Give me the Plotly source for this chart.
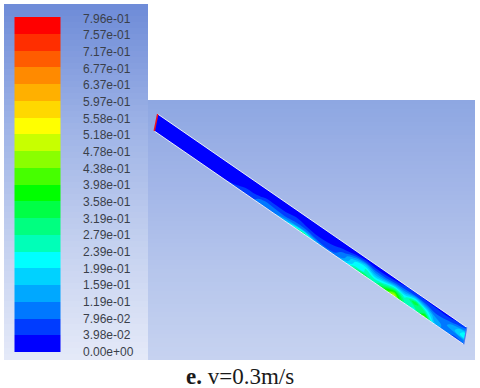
import numpy as np
import plotly.graph_objects as go

# legend values, top to bottom, and one colour per band between them
level_values = [0.796, 0.757, 0.717, 0.677, 0.637, 0.597, 0.558, 0.518, 0.478, 0.438, 0.398,
                0.358, 0.319, 0.279, 0.239, 0.199, 0.159, 0.119, 0.0796, 0.0398, 0.0]
band_colors = ["#ff0000", "#ff2e00", "#ff5c00", "#ff8a00", "#ffb000", "#ffd800", "#ffff00",
               "#c8ff00", "#8aff00", "#46ff00", "#00ff00", "#00ff46", "#00ff80", "#00ffb8",
               "#00ffff", "#00d2ff", "#00a8ff", "#0078ff", "#003cff", "#0000ff"]

# velocity along the plate: one row per station, left to right, each row from upper to lower edge
station_values = [
    [0.02, 0.02, 0.02, 0.02, 0.02, 0.02],
    [0.02, 0.02, 0.02, 0.02, 0.02, 0.02],
    [0.02, 0.02, 0.02, 0.02, 0.02, 0.02],
    [0.02, 0.02, 0.02, 0.02, 0.02, 0.02],
    [0.02, 0.02, 0.02, 0.02, 0.02, 0.02],
    [0.02, 0.02, 0.02, 0.02, 0.02, 0.02],
    [0.02, 0.02, 0.02, 0.02, 0.02, 0.03],
    [0.02, 0.02, 0.02, 0.02, 0.03, 0.04],
    [0.02, 0.02, 0.02, 0.02, 0.03, 0.05],
    [0.02, 0.02, 0.02, 0.03, 0.05, 0.06],
    [0.02, 0.02, 0.02, 0.03, 0.06, 0.08],
    [0.02, 0.02, 0.03, 0.05, 0.12, 0.10],
    [0.02, 0.02, 0.03, 0.05, 0.10, 0.12],
    [0.02, 0.02, 0.03, 0.05, 0.09, 0.17],
    [0.02, 0.02, 0.04, 0.06, 0.11, 0.27],
    [0.02, 0.02, 0.03, 0.05, 0.12, 0.34],
    [0.02, 0.02, 0.03, 0.04, 0.08, 0.18],
    [0.02, 0.02, 0.03, 0.04, 0.06, 0.10],
    [0.02, 0.02, 0.03, 0.05, 0.07, 0.10],
    [0.02, 0.02, 0.05, 0.10, 0.12, 0.18],
    [0.02, 0.04, 0.12, 0.20, 0.22, 0.30],
    [0.02, 0.05, 0.17, 0.24, 0.24, 0.36],
    [0.02, 0.04, 0.10, 0.17, 0.24, 0.28],
    [0.02, 0.04, 0.10, 0.20, 0.30, 0.38],
    [0.02, 0.05, 0.15, 0.28, 0.42, 0.52],
    [0.03, 0.07, 0.14, 0.22, 0.26, 0.28],
    [0.03, 0.08, 0.22, 0.36, 0.28, 0.20],
    [0.03, 0.06, 0.14, 0.24, 0.32, 0.46],
    [0.03, 0.05, 0.08, 0.12, 0.14, 0.18],
    [0.02, 0.05, 0.09, 0.11, 0.11, 0.09],
    [0.03, 0.07, 0.14, 0.16, 0.09, 0.07],
    [0.05, 0.11, 0.22, 0.24, 0.12, 0.08],
]
along_stations = list(np.linspace(0, 1, len(station_values)))
across_stations = [0, 0.2, 0.4, 0.6, 0.8, 1]

# plate corners on the page
plate_top_start, plate_top_end = (157.7, 114.0), (466.7, 327.3)
plate_low_start, plate_low_end = (154.3, 131.0), (463.7, 344.3)

panel_left_stops = ["#6f8cd8", "#9db2e6", "#c3d0ef", "#e4e9f8"]
panel_right_stops = ["#8ea7e2", "#a3b6e8", "#b6c6ec", "#c6d2f0"]

fig = go.Figure()


def add_panel(left, right, top, bottom, stops):
    rows = 60
    z = [[v] for v in np.linspace(0, 1, rows)]
    scale = [[i / (len(stops) - 1), c] for i, c in enumerate(stops)]
    fig.add_trace(go.Heatmap(x=[left, right], y=np.linspace(top, bottom, rows + 1), z=z,
                             colorscale=scale, zmin=0, zmax=1, showscale=False, hoverinfo="skip"))


add_panel(4, 148, 4, 360, panel_left_stops)
add_panel(148, 475, 100, 360, panel_right_stops)

# stepped colorscale shared by the legend and the plate
n_bands = len(band_colors)
stepped = []
for i, c in enumerate(reversed(band_colors)):
    stepped += [[i / n_bands, c], [(i + 1) / n_bands, c]]

legend_z = [[(a + b) / 2] for a, b in zip(level_values[:-1], level_values[1:])]
fig.add_trace(go.Heatmap(x=[14.5, 60.5], y=np.linspace(17, 352, n_bands + 1), z=legend_z,
                         colorscale=stepped, zmin=0, zmax=level_values[0],
                         showscale=False, hoverinfo="skip"))

for i, v in enumerate(level_values):
    fig.add_annotation(x=81, y=18.5 + i * (352 - 18.5) / (len(level_values) - 1), text=f"{v:.2e}",
                       xanchor="left", yanchor="middle", showarrow=False,
                       font=dict(family="Liberation Sans", size=12, color="#3a3f4a"))

# plate drawn on a carpet so the contours follow its slanted edges
a = np.array(along_stations)
b = np.array(across_stations)
top_x = plate_top_start[0] + a * (plate_top_end[0] - plate_top_start[0])
top_y = plate_top_start[1] + a * (plate_top_end[1] - plate_top_start[1])
low_x = plate_low_start[0] + a * (plate_low_end[0] - plate_low_start[0])
low_y = plate_low_start[1] + a * (plate_low_end[1] - plate_low_start[1])
carpet_x = [list(top_x + f * (low_x - top_x)) for f in b]
carpet_y = [list(top_y + f * (low_y - top_y)) for f in b]
carpet_axis = dict(showgrid=False, startline=False, endline=False, showticklabels="none",
                   minorgridcount=0, smoothing=0, tickmode="array", tickvals=[])
fig.add_trace(go.Carpet(a=along_stations, b=across_stations, x=carpet_x, y=carpet_y,
                        carpet="plate", aaxis=carpet_axis, baxis=carpet_axis))
fig.add_trace(go.Contourcarpet(a=along_stations, b=across_stations, carpet="plate",
                               z=np.array(station_values).T.tolist(),
                               colorscale=stepped, zmin=0, zmax=level_values[0],
                               autocontour=False, showscale=False,
                               contours=dict(start=0, end=level_values[0], size=level_values[0] / n_bands,
                                             coloring="fill", showlines=False),
                               line=dict(width=0)))

# white walls and the coloured inlet / outlet edges
for p, q, color, width in [(plate_top_start, plate_top_end, "#e8edf8", 1.0),
                           (plate_low_start, plate_low_end, "#e8edf8", 1.0),
                           (plate_top_start, plate_low_start, "#f0141e", 1.5),
                           (plate_top_end, plate_low_end, "#4a7cf0", 1.2)]:
    fig.add_trace(go.Scatter(x=[p[0], q[0]], y=[p[1], q[1]], mode="lines",
                             line=dict(color=color, width=width), hoverinfo="skip"))

fig.add_annotation(x=240, y=376, text="<b>e.</b> v=0.3m/s", showarrow=False,
                   xanchor="center", yanchor="middle",
                   font=dict(family="Liberation Serif", size=23, color="#1a1a1a"))

fig.update_layout(width=480, height=388, margin=dict(l=0, r=0, t=0, b=0), showlegend=False,
                  paper_bgcolor="white", plot_bgcolor="white",
                  xaxis=dict(range=[0, 480], visible=False),
                  yaxis=dict(range=[388, 0], visible=False))

# the page's default body margin would push the figure 8px in
fig.write_html("out.html", config={"displayModeBar": False},
               post_script="document.body.style.margin = '0';")
